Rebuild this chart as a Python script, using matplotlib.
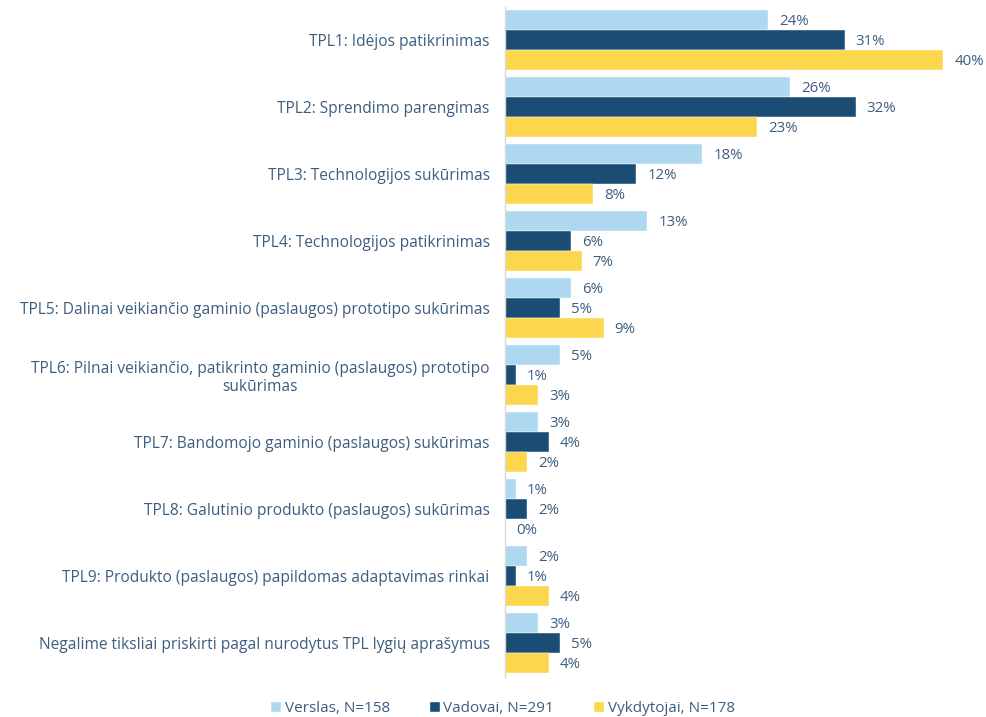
import matplotlib.pyplot as plt
import numpy as np

categories = [
    "TPL1: Idėjos patikrinimas",
    "TPL2: Sprendimo parengimas",
    "TPL3: Technologijos sukūrimas",
    "TPL4: Technologijos patikrinimas",
    "TPL5: Dalinai veikiančio gaminio (paslaugos) prototipo sukūrimas",
    "TPL6: Pilnai veikiančio, patikrinto gaminio (paslaugos) prototipo\nsukūrimas",
    "TPL7: Bandomojo gaminio (paslaugos) sukūrimas",
    "TPL8: Galutinio produkto (paslaugos) sukūrimas",
    "TPL9: Produkto (paslaugos) papildomas adaptavimas rinkai",
    "Negalime tiksliai priskirti pagal nurodytus TPL lygių aprašymus",
]
series_names = ["Verslas, N=158", "Vadovai, N=291", "Vykdytojai, N=178"]
verslas = [24, 26, 18, 13, 6, 5, 3, 1, 2, 3]
vadovai = [31, 32, 12, 6, 5, 1, 4, 2, 1, 5]
vykdytojai = [40, 23, 8, 7, 9, 3, 2, 0, 4, 4]

colors = ["#AED8F0", "#1B4D74", "#FCD74E"]
text_color = "#3D5D80"

plt.rcParams['font.family'] = ['Open Sans', 'DejaVu Sans']

fig = plt.figure(figsize=(9.86, 7.17), dpi=100)
ax = fig.add_axes([505 / 986, 1 - 676.5 / 717, 481 / 986, 670 / 717])

y = np.arange(len(categories))
h = 0.3
for k, vals in enumerate([verslas, vadovai, vykdytojai]):
    pos = y - h + k * h
    ax.barh(pos, vals, height=h, color=colors[k], label=series_names[k],
            edgecolor='white', linewidth=0.3)
    for yy, v in zip(pos, vals):
        ax.annotate('{}%'.format(v), (v, yy), xytext=(8, -1), textcoords='offset points',
                    va='center', ha='left', fontsize=10.8, color=text_color)

ax.set_xlim(0, 43.9)
ax.set_ylim(len(categories) - 0.5, -0.5)
ax.set_yticks(y)
ax.set_yticklabels(categories, fontsize=11.2, color=text_color, multialignment='center')
ax.tick_params(axis='y', length=0, pad=11)
ax.set_xticks([])
for s in ['top', 'right', 'bottom']:
    ax.spines[s].set_visible(False)
ax.spines['left'].set_color('#D9D9D9')
ax.spines['left'].set_linewidth(1)

leg = fig.legend(loc='lower center', bbox_to_anchor=(0.51, -0.018), ncol=3, frameon=False,
                 fontsize=11, handlelength=0.65, handleheight=0.65, handletextpad=0.25,
                 columnspacing=2.6)
for t in leg.get_texts():
    t.set_color(text_color)

fig.savefig('out.png', dpi=100)
